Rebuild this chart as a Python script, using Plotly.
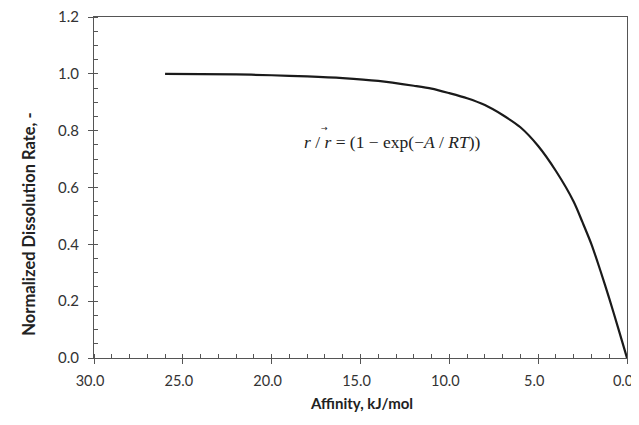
import plotly.graph_objects as go

affinity = [26.0, 22.0, 20.0, 18.0, 16.0, 14.0, 12.0, 11.0, 10.0, 9.0, 8.0, 7.0, 6.0, 5.0, 4.0, 3.0, 2.5, 2.0, 1.5, 1.0, 0.5, 0.0]
rate = [1.000, 0.998, 0.995, 0.991, 0.985, 0.975, 0.958, 0.948, 0.932, 0.914, 0.890, 0.855, 0.812, 0.746, 0.658, 0.550, 0.477, 0.400, 0.308, 0.210, 0.106, 0.0]

x_ticks = [30, 25, 20, 15, 10, 5, 0]
y_ticks = [0, 0.2, 0.4, 0.6, 0.8, 1.0, 1.2]

fig = go.Figure()
fig.add_trace(go.Scatter(x=affinity, y=rate, mode="lines",
                         line=dict(color="#1a1a1a", width=2.2, shape="spline", smoothing=0.8),
                         showlegend=False, hoverinfo="skip"))

fig.add_annotation(x=13.22, y=0.76, xref="x", yref="y", showarrow=False,
                   text="<i>r</i> / <i>r</i> = (1 \u2212 exp(\u2212<i>A</i> / <i>RT</i>))",
                   font=dict(family="Liberation Serif", size=17.5, color="#222"))
fig.add_annotation(x=17.05, y=0.808, xref="x", yref="y", showarrow=False,
                   text="\u2192", font=dict(family="DejaVu Sans", size=8, color="#222"))

axis_common = dict(showline=True, linecolor="#555", linewidth=1, mirror=True,
                   ticks="outside", ticklen=5, tickcolor="#555", tickwidth=1,
                   showgrid=False, zeroline=False, automargin=False,
                   ticklabeloverflow="allow")

fig.update_xaxes(range=[30, 0], tickvals=x_ticks, tickformat=".1f", ticklabelstandoff=5,
                 ticklabelshift=4, tickfont=dict(family="Lato", size=14.5, color="#333"),
                 minor=dict(dtick=1, ticks="inside", ticklen=4, tickcolor="#555", showgrid=False),
                 **axis_common)
fig.update_yaxes(range=[0, 1.2], tickvals=y_ticks, tickformat=".1f", ticklabelstandoff=6,
                 tickfont=dict(family="Lato", size=15, color="#333"),
                 minor=dict(dtick=0.05, ticks="inside", ticklen=4, tickcolor="#555", showgrid=False),
                 **axis_common)

fig.add_annotation(x=0.501, y=-0.164, xref="paper", yref="paper", showarrow=False,
                   text="<b>Affinity, kJ/mol</b>", font=dict(family="Lato", size=15, color="#222"))
fig.add_annotation(x=-0.1445, y=0.394, xref="paper", yref="paper", showarrow=False, textangle=-90,
                   text="<b>Normalized Dissolution Rate, -</b>", font=dict(family="Lato", size=16.5, color="#222"))

fig.update_layout(width=639, height=425, margin=dict(l=86, r=20, t=9, b=75),
                  plot_bgcolor="white", paper_bgcolor="white")

fig.write_html("out.html")
